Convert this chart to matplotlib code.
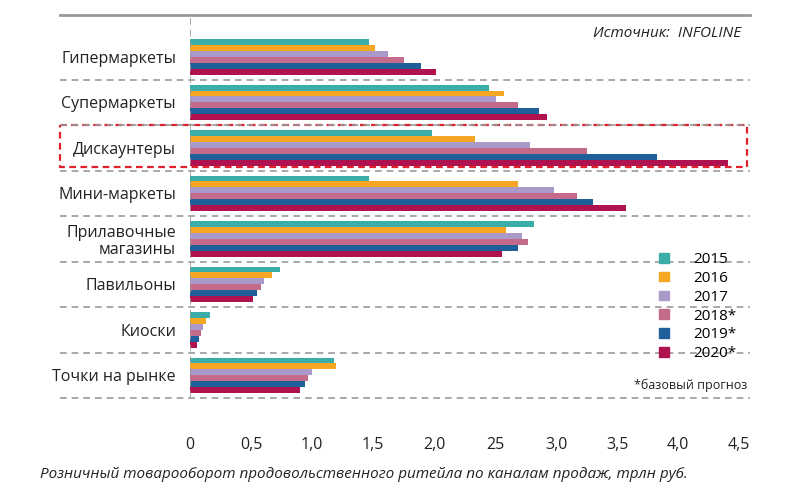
import matplotlib.pyplot as plt
from matplotlib.patches import Rectangle
import numpy as np

channels = ['Гипермаркеты', 'Супермаркеты', 'Дискаунтеры', 'Мини-маркеты',
            'Прилавочные\nмагазины', 'Павильоны', 'Киоски', 'Точки на рынке']
years = ['2015', '2016', '2017', '2018*', '2019*', '2020*']
colors = ['#3aada8', '#f5a623', '#a99ac9', '#c46a8a', '#1f5f9a', '#b0124f']

v2015 = [1.47, 2.45, 1.98, 1.47, 2.82, 0.74, 0.16, 1.18]
v2016 = [1.52, 2.57, 2.34, 2.69, 2.59, 0.67, 0.13, 1.20]
v2017 = [1.62, 2.51, 2.79, 2.98, 2.72, 0.61, 0.11, 1.00]
v2018 = [1.75, 2.69, 3.25, 3.17, 2.77, 0.58, 0.09, 0.97]
v2019 = [1.89, 2.86, 3.83, 3.30, 2.69, 0.55, 0.07, 0.94]
v2020 = [2.02, 2.93, 4.41, 3.57, 2.56, 0.52, 0.06, 0.90]
series = [v2015, v2016, v2017, v2018, v2019, v2020]

xticks = [0, 0.5, 1.0, 1.5, 2.0, 2.5, 3.0, 3.5, 4.0, 4.5]
xticklabels = ['0', '0,5', '1,0', '1,5', '2,0', '25', '3,0', '3,5', '4,0', '4,5']

plt.rcParams['font.family'] = ['Open Sans', 'DejaVu Sans']
fig = plt.figure(figsize=(8.05, 5), dpi=100)
ax = fig.add_axes([190/805, 1-398/500, 560/805, 383/500])

n = len(channels)
h = 0.13
y = np.arange(n)
for k, vals in enumerate(series):
    ax.barh(y - 2.5*h + k*h, vals, height=h, color=colors[k], label=years[k])

ax.set_xlim(0, 560/122)
ax.set_ylim(7.5, -0.92)
for s in ax.spines.values():
    s.set_visible(False)
ax.set_yticks(y)
ax.set_yticklabels(channels, fontsize=11.5, color='#222222', linespacing=1.1)
ax.tick_params(axis='y', length=0, pad=10)
ax.set_xticks(xticks)
ax.set_xticklabels(xticklabels, fontsize=11.5, color='#222222')
ax.tick_params(axis='x', length=0, pad=28)

xl = -130/560
for i in range(n):
    ax.plot([xl, 1], [i+0.5, i+0.5], transform=ax.get_yaxis_transform(), color='#999999',
            ls=(0, (4, 3)), lw=1.2, clip_on=False)
ax.plot([xl, 1], [-0.92, -0.92], transform=ax.get_yaxis_transform(), color='#999999',
        lw=2, clip_on=False)
ax.axvline(0, color='#999999', ls=(0, (4, 3)), lw=1.2)

ax.add_patch(Rectangle((xl, 1.5), 1-xl-0.005, 0.93, transform=ax.get_yaxis_transform(),
                       fill=False, ec='#e0202a', ls=(0, (3, 2)), lw=1.6, clip_on=False))

ax.text(0.985, 0.97, 'Источник:  INFOLINE', transform=ax.transAxes, ha='right', va='top',
        fontsize=11, style='italic', color='#222222')

handles = [Rectangle((0, 0), 1, 1, color=c) for c in colors]
leg = ax.legend(handles, years, loc='lower right', bbox_to_anchor=(1.0, 0.06), frameon=False,
                fontsize=11, handlelength=0.6, handleheight=0.6, labelspacing=0.25,
                handletextpad=1.6)
ax.text(0.995, 0.05, '*базовый прогноз', transform=ax.transAxes, ha='right', va='top',
        fontsize=9, color='#222222')

fig.text(40/805, 1-474/500, 'Розничный товарооборот продовольственного ритейла по каналам продаж, трлн руб.',
         fontsize=11, style='italic', color='#222222', va='center')

fig.savefig('out.png', dpi=100)
